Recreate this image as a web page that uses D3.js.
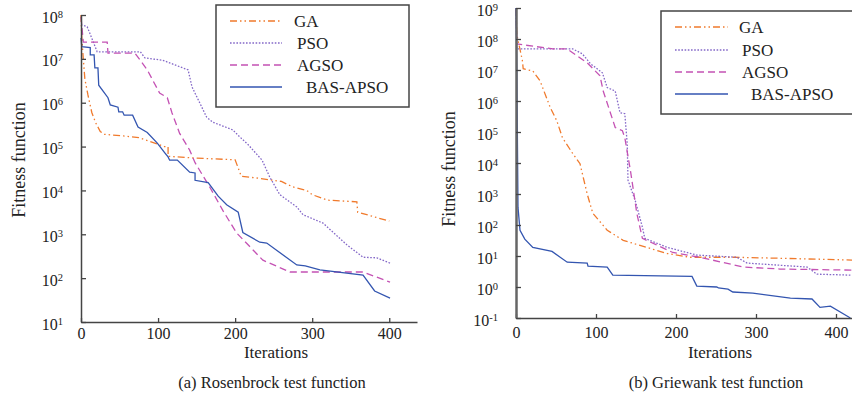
<!DOCTYPE html>
<html>
<head>
<meta charset="utf-8">
<script src="https://cdn.jsdelivr.net/npm/d3@7"></script>
<style>
  body { margin: 0; background: #fff; }
  svg { display: block; }
</style>
</head>
<body>
<div id="chart"></div>
<script>
// series names and tick values
const seriesNames = ["GA", "PSO", "AGSO", "BAS-APSO"];
const iterationTicks = [0, 100, 200, 300, 400];
const rosenbrockTicks = [1e1, 1e2, 1e3, 1e4, 1e5, 1e6, 1e7, 1e8];
const griewankTicks = [1e-1, 1e0, 1e1, 1e2, 1e3, 1e4, 1e5, 1e6, 1e7, 1e8, 1e9];

// (a) Rosenbrock: [iteration, fitness]
const rosenGA = [[0,1e8],[1,3e7],[3,1e7],[5,3.5e6],[9,1.5e6],[14,6e5],[19,3.5e5],[25,2.2e5],[30,1.9e5],[55,1.75e5],[75,1.6e5],[90,1.3e5],[108,1e5],[113,1e5],[113,6e4],[145,5.5e4],[200,5e4],[208,2.1e4],[230,1.9e4],[260,1.6e4],[275,1.2e4],[293,1e4],[300,8e3],[320,6e3],[358,5.5e3],[359,3.2e3],[400,2e3]];
const rosenPSO = [[0,6e7],[8,5.4e7],[21,1.45e7],[77,1.45e7],[83,1.05e7],[106,9.3e6],[139,5.6e6],[144,2.3e6],[163,4.7e5],[171,3.6e5],[197,2.4e5],[204,1.8e5],[217,1.1e5],[235,4.9e4],[245,2e4],[258,8e3],[280,4.2e3],[288,2.8e3],[314,1.8e3],[345,575],[366,300],[384,290],[401,220]];
const rosenAGSO = [[0,9e7],[3,2.4e7],[34,2.4e7],[35,1.35e7],[70,1.35e7],[86,5.6e6],[102,1.66e6],[112,1.3e6],[118,5.9e5],[128,2e5],[141,8.3e4],[148,4.3e4],[167,1.2e4],[184,3.5e3],[202,1.07e3],[236,257],[271,138],[366,138],[401,81]];
const rosenBAS = [[0,3e7],[1,1.9e7],[12,1.8e7],[12,1.23e7],[17,1.23e7],[18,6.2e6],[22,6.2e6],[23,2.5e6],[35,1.3e6],[38,8.9e5],[48,7.9e5],[49,6.2e5],[54,6.2e5],[56,5.2e5],[67,5.2e5],[74,2.8e5],[86,2.1e5],[99,1.2e5],[109,7.1e4],[113,5.8e4],[115,4.9e4],[125,4.9e4],[141,2.6e4],[148,2.5e4],[148,1.7e4],[165,1.5e4],[178,7.4e3],[189,4.7e3],[204,3.2e3],[210,1.1e3],[232,660],[241,630],[280,200],[291,190],[310,155],[366,117],[381,51],[401,35]];

// (b) Griewank: [iteration, fitness]
const griewGA = [[0,1e9],[1,1.4e8],[8,2e7],[9,1.1e7],[21,9.3e6],[30,4.5e6],[43,6e5],[51,2.3e5],[58,6.6e4],[71,2e4],[80,9.5e3],[89,1e3],[96,240],[114,68],[134,32],[155,22],[189,12],[218,9.1],[271,9.1],[326,8.5],[420,7.4]];
const griewPSO = [[0,1e9],[1,4.8e7],[71,4.8e7],[83,3.3e7],[93,1.6e7],[108,8.1e6],[114,2.7e6],[124,2.1e6],[130,4.2e5],[136,3.9e5],[139,4.3e4],[140,2.8e3],[149,620],[158,85],[161,37],[189,19],[226,10.7],[276,9.1],[289,5.9],[364,4.4],[376,2.6],[420,2.4]];
const griewAGSO = [[0,9e8],[1,6.9e7],[46,4.8e7],[64,4.8e7],[89,1.7e7],[105,6.5e6],[109,2.1e6],[124,1.4e5],[133,1.1e5],[136,6.6e4],[143,5.8e3],[151,240],[158,37],[196,13],[230,9.1],[284,4.4],[330,3.8],[420,3.5]];
const griewBAS = [[0,1e9],[1,1.2e7],[2.5,370],[5,68],[11,35],[21,19],[45,14],[64,6.3],[89,5.9],[90,4.7],[114,4.4],[121,2.4],[220,2.2],[226,1.07],[251,1.0],[253,0.93],[265,0.85],[271,0.69],[296,0.63],[343,0.44],[370,0.41],[380,0.22],[393,0.24],[418,0.1]];

const width = 852, height = 400;
const fontFamily = '"Liberation Serif", "Times New Roman", serif';
const textColor = "#222";
const axisColor = "#444";

const styles = {
    "GA": { color: "#f07a2c", dash: "7,3,1.5,3,1.5,3" },
    "PSO": { color: "#8468c8", dash: "1.6,1.6" },
    "AGSO": { color: "#c452b4", dash: "7,4" },
    "BAS-APSO": { color: "#3355b0", dash: null }
};

const svg = d3.select("#chart").append("svg")
    .attr("width", width)
    .attr("height", height)
    .style("font-family", fontFamily);

function drawPanel(p) {
    const x = d3.scaleLinear().domain(p.xDomain).range(p.xRange);
    const y = d3.scaleLog().domain(p.yDomain).range(p.yRange);

    // lines
    const line = d3.line().x(d => x(d[0])).y(d => y(d[1]));
    p.series.forEach((data, i) => {
        const s = styles[seriesNames[i]];
        svg.append("path")
            .datum(data)
            .attr("fill", "none")
            .attr("stroke", s.color)
            .attr("stroke-width", 1.3)
            .attr("stroke-dasharray", s.dash)
            .attr("d", line);
    });

    // x axis
    svg.append("g")
        .attr("transform", `translate(0,${p.yRange[0]})`)
        .call(d3.axisBottom(x).tickValues(iterationTicks).tickSizeInner(-4).tickSizeOuter(0).tickPadding(p.xPad))
        .call(g => g.select(".domain").attr("stroke", axisColor).attr("stroke-width", 1.5))
        .call(g => g.selectAll(".tick line").attr("stroke", axisColor).attr("stroke-width", 1.3))
        .call(g => g.selectAll("text").attr("fill", textColor).style("font-size", "16px").style("font-family", fontFamily));

    // y axis, labels as 10 with superscript exponent
    svg.append("g")
        .attr("transform", `translate(${p.xRange[0]},0)`)
        .call(d3.axisLeft(y).tickValues(p.yTicks).tickSizeInner(-5).tickSizeOuter(0).tickPadding(18).tickFormat(""))
        .call(g => g.select(".domain").attr("stroke", p.yAxisColor).attr("stroke-width", p.yAxisWidth))
        .call(g => g.selectAll(".tick line").attr("stroke", axisColor).attr("stroke-width", 1.3))
        .call(g => g.selectAll(".tick text")
            .attr("dy", "0.44em")
            .attr("fill", textColor)
            .style("font-size", "16px")
            .style("font-family", fontFamily)
            .each(function(d) {
                const t = d3.select(this);
                t.append("tspan").text("10");
                t.append("tspan").attr("dy", "-5").style("font-size", "10.5px").text(Math.round(Math.log10(d)));
            }));

    // axis titles
    svg.append("text")
        .attr("x", p.xTitle[0]).attr("y", p.xTitle[1])
        .attr("text-anchor", "middle")
        .style("font-size", "17px").attr("fill", textColor)
        .text("Iterations");

    svg.append("text")
        .attr("transform", `translate(${p.yTitle[0]},${p.yTitle[1]}) rotate(-90)`)
        .attr("text-anchor", "middle")
        .style("font-size", "18px").attr("fill", textColor)
        .text("Fitness function");

    svg.append("text")
        .attr("x", p.caption[0]).attr("y", p.caption[1])
        .attr("text-anchor", "middle")
        .style("font-size", "16.5px").attr("fill", textColor)
        .text(p.captionText);

    // legend
    const lg = p.legend;
    svg.append("rect")
        .attr("x", lg.box[0]).attr("y", lg.box[1])
        .attr("width", lg.box[2]).attr("height", lg.box[3])
        .attr("fill", "#fff")
        .attr("stroke", axisColor)
        .attr("stroke-width", 1.5);

    seriesNames.forEach((name, i) => {
        const s = styles[name];
        const ry = lg.rows[i];
        svg.append("line")
            .attr("x1", lg.line[0]).attr("x2", lg.line[1])
            .attr("y1", ry).attr("y2", ry)
            .attr("stroke", s.color)
            .attr("stroke-width", 1.5)
            .attr("stroke-dasharray", s.dash);
        svg.append("text")
            .attr("x", lg.textX + [0, 3, 3, 12][i])
            .attr("y", ry + 6)
            .style("font-size", "17px").attr("fill", textColor)
            .text(name);
    });
}

drawPanel({
    xDomain: [0, 436], xRange: [81, 417],
    yDomain: [1e1, 1e8], yRange: [322, 15],
    yTicks: rosenbrockTicks,
    yAxisColor: axisColor, yAxisWidth: 1.5,
    xPad: 6,
    series: [rosenGA, rosenPSO, rosenAGSO, rosenBAS],
    xTitle: [276, 358], yTitle: [25, 160],
    caption: [272, 388], captionText: "(a) Rosenbrock test function",
    legend: { box: [216, 5, 193, 102], line: [230, 282], rows: [21, 43, 65, 87], textX: 294 }
});

drawPanel({
    xDomain: [0, 420], xRange: [516, 852],
    yDomain: [1e-1, 1e9], yRange: [318, 8],
    yTicks: griewankTicks,
    yAxisColor: "#666", yAxisWidth: 2.5,
    xPad: 9,
    series: [griewGA, griewPSO, griewAGSO, griewBAS],
    xTitle: [720, 358], yTitle: [455, 169],
    caption: [716, 388], captionText: "(b) Griewank test function",
    legend: { box: [661, 11, 200, 103], line: [675, 728], rows: [27, 50, 72, 94], textX: 739 }
});
</script>
</body>
</html>
